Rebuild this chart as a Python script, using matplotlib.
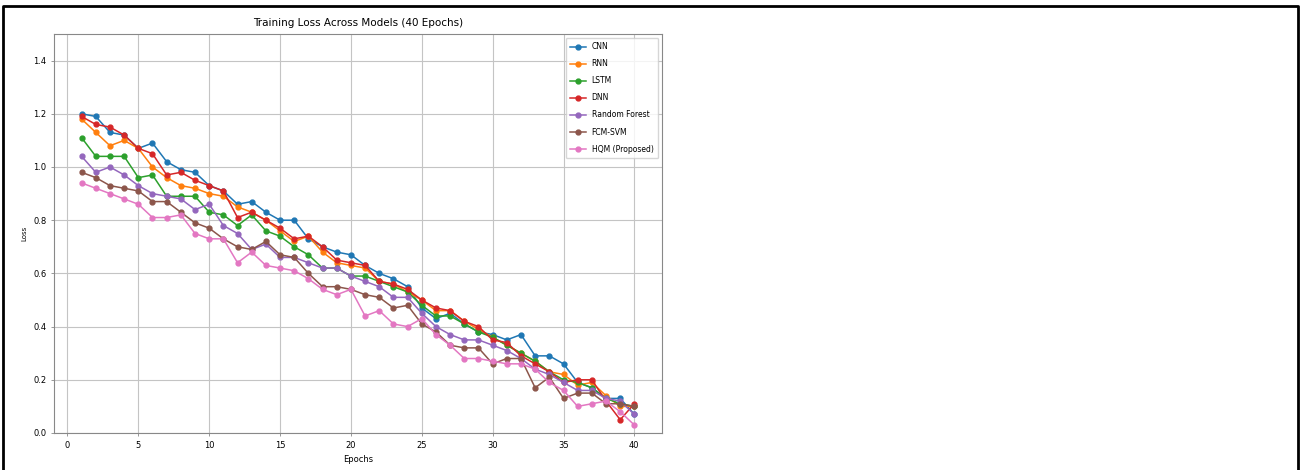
import numpy as np
import matplotlib.pyplot as plt
from matplotlib.lines import Line2D

epochs = list(range(1, 41))

cnn = [1.20, 1.19, 1.13, 1.12, 1.07, 1.09, 1.02, 0.99, 0.98, 0.93,
       0.91, 0.86, 0.87, 0.83, 0.80, 0.80, 0.73, 0.70, 0.68, 0.67,
       0.63, 0.60, 0.58, 0.55, 0.47, 0.43, 0.45, 0.41, 0.38, 0.37,
       0.35, 0.37, 0.29, 0.29, 0.26, 0.19, 0.17, 0.13, 0.13, 0.07]
rnn = [1.18, 1.13, 1.08, 1.10, 1.07, 1.00, 0.96, 0.93, 0.92, 0.90,
       0.89, 0.85, 0.83, 0.80, 0.76, 0.72, 0.74, 0.68, 0.64, 0.63,
       0.62, 0.57, 0.56, 0.53, 0.50, 0.46, 0.46, 0.42, 0.39, 0.36,
       0.33, 0.30, 0.27, 0.23, 0.22, 0.18, 0.19, 0.14, 0.10, 0.10]
lstm = [1.11, 1.04, 1.04, 1.04, 0.96, 0.97, 0.89, 0.89, 0.89, 0.83,
        0.82, 0.78, 0.82, 0.76, 0.74, 0.70, 0.67, 0.62, 0.62, 0.59,
        0.59, 0.57, 0.55, 0.53, 0.48, 0.44, 0.44, 0.41, 0.38, 0.36,
        0.33, 0.30, 0.27, 0.23, 0.20, 0.19, 0.17, 0.13, 0.11, 0.10]
dnn = [1.19, 1.16, 1.15, 1.12, 1.07, 1.05, 0.97, 0.98, 0.95, 0.93,
       0.91, 0.81, 0.83, 0.80, 0.77, 0.73, 0.74, 0.70, 0.65, 0.64,
       0.63, 0.57, 0.56, 0.54, 0.50, 0.47, 0.46, 0.42, 0.40, 0.35,
       0.34, 0.29, 0.26, 0.23, 0.19, 0.20, 0.20, 0.12, 0.05, 0.11]
random_forest = [1.04, 0.98, 1.00, 0.97, 0.93, 0.90, 0.89, 0.88, 0.84, 0.86,
                 0.78, 0.75, 0.69, 0.71, 0.66, 0.66, 0.64, 0.62, 0.62, 0.59,
                 0.57, 0.55, 0.51, 0.51, 0.45, 0.40, 0.37, 0.35, 0.35, 0.33,
                 0.31, 0.28, 0.24, 0.22, 0.19, 0.16, 0.16, 0.13, 0.12, 0.07]
fcm_svm = [0.98, 0.96, 0.93, 0.92, 0.91, 0.87, 0.87, 0.83, 0.79, 0.77,
           0.73, 0.70, 0.69, 0.72, 0.67, 0.66, 0.60, 0.55, 0.55, 0.54,
           0.52, 0.51, 0.47, 0.48, 0.41, 0.38, 0.33, 0.32, 0.32, 0.26,
           0.28, 0.28, 0.17, 0.21, 0.13, 0.15, 0.15, 0.11, 0.11, 0.10]
hqm = [0.94, 0.92, 0.90, 0.88, 0.86, 0.81, 0.81, 0.82, 0.75, 0.73,
       0.73, 0.64, 0.68, 0.63, 0.62, 0.61, 0.58, 0.54, 0.52, 0.54,
       0.44, 0.46, 0.41, 0.40, 0.43, 0.37, 0.33, 0.28, 0.28, 0.27,
       0.26, 0.26, 0.24, 0.19, 0.16, 0.10, 0.11, 0.12, 0.08, 0.03]

labels = ['CNN', 'RNN', 'LSTM', 'DNN', 'Random Forest', 'FCM-SVM', 'HQM (Proposed)']
series = [cnn, rnn, lstm, dnn, random_forest, fcm_svm, hqm]

W, H = 1301, 470
fig = plt.figure(figsize=(W / 100, H / 100), dpi=100)
ax = fig.add_axes([54 / W, (H - 433) / H, (662 - 54) / W, (433 - 34) / H])

for name, vals in zip(labels, series):
    ax.plot(epochs, vals, marker='o', markersize=3.5, linewidth=1.1, label=name)

ax.set_ylim(0, 1.5)
ax.set_xticks(range(0, 41, 5))
ax.set_yticks(np.arange(0, 1.41, 0.2))
ax.set_title('Training Loss Across Models (40 Epochs)', fontsize=7.5, pad=6)
ax.set_xlabel('Epochs', fontsize=6)
ax.set_ylabel('Loss', fontsize=5)
ax.tick_params(labelsize=6, length=2, width=0.6, color='#888888')
ax.grid(True, color='#c4c4c4', linewidth=0.8)
for s in ax.spines.values():
    s.set_color('#888888')
ax.legend(loc='upper right', fontsize=5.5, frameon=True, handlelength=2,
          borderpad=0.6, labelspacing=1.05)

# page frame around the image (open at the bottom)
fx0, fx1, fy = 3 / W, 1298 / W, 1 - 6 / H
fig.add_artist(Line2D([fx0, fx0, fx1, fx1], [0, fy, fy, 0],
                      transform=fig.transFigure, color='black', linewidth=2))

fig.savefig('out.png', dpi=100)
